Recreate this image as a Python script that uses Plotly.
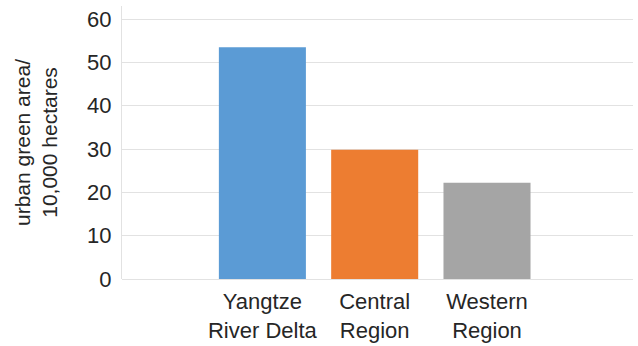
import plotly.graph_objects as go

# Urban green area by region (10,000 hectares)
regions = ["Yangtze<br>River Delta", "Central<br>Region", "Western<br>Region"]
green_area = [53.5, 29.8, 22.2]
bar_colors = ["#5B9BD5", "#ED7D31", "#A5A5A5"]
y_ticks = [0, 10, 20, 30, 40, 50, 60]

FONT = "Liberation Sans, Arial, sans-serif"
TEXT = "#262626"
GRID = "#e2e2e2"

fig = go.Figure(
    go.Bar(
        x=regions,
        y=green_area,
        marker=dict(color=bar_colors, line=dict(width=0)),
        width=0.775,
        hoverinfo="x+y",
    )
)

fig.update_layout(
    width=638,
    height=346,
    margin=dict(l=122, r=5, t=6, b=67),
    paper_bgcolor="white",
    plot_bgcolor="white",
    showlegend=False,
    font=dict(family=FONT, size=22, color=TEXT),
)

fig.update_xaxes(
    type="category",
    range=[-1.25, 3.30],
    automargin=False,
    showgrid=False,
    showline=False,
    ticks="",
    ticklabelstandoff=7,
    tickfont=dict(size=22, color=TEXT),
)

fig.update_yaxes(
    range=[0, 63],
    tickvals=y_ticks,
    automargin=False,
    showgrid=True,
    gridcolor=GRID,
    gridwidth=1,
    zeroline=True,
    zerolinecolor=GRID,
    zerolinewidth=1,
    showline=True,
    linecolor=GRID,
    linewidth=1,
    ticks="",
    ticklabelstandoff=5,
    tickfont=dict(size=22, color=TEXT),
    title=dict(
        text="urban green area/<br>10,000 hectares",
        font=dict(size=21, color=TEXT),
        standoff=23,
    ),
)

fig.write_html("out.html")
